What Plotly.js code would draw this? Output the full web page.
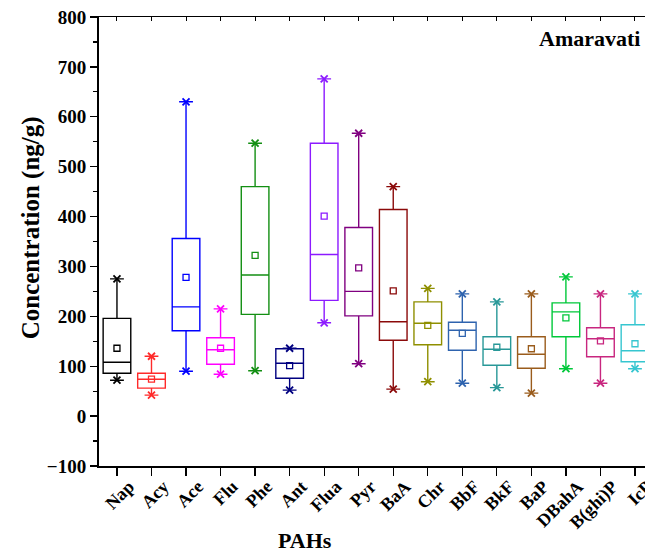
<!DOCTYPE html>
<html>
<head>
<meta charset="utf-8">
<script src="https://cdn.plot.ly/plotly-3.0.1.min.js"></script>
<style>html,body{margin:0;padding:0;background:#fff;overflow:hidden}#chart{width:645px;height:554px}</style>
</head>
<body>
<div id="chart"></div>
<script>
const categories = ['Nap','Acy','Ace','Flu','Phe','Ant','Flua','Pyr','BaA','Chr','BbF','BkF','BaP','DBahA','B(ghi)P','IcP'];
const minVals  = [72, 42, 90, 84, 91, 52, 187, 105, 54, 69, 66, 57, 46, 95, 66, 95];
const q1Vals   = [86, 56, 171, 104, 204, 76, 232, 201, 152, 143, 132, 102, 96, 159, 119, 109];
const medVals  = [108, 74, 219, 133, 283, 106, 324, 250, 189, 186, 172, 134, 124, 209, 155, 131];
const q3Vals   = [196, 86, 356, 157, 460, 135, 547, 378, 414, 229, 188, 159, 159, 227, 177, 183];
const maxVals  = [275, 120, 630, 215, 547, 136, 676, 567, 460, 256, 245, 229, 245, 279, 245, 245];
const meanVals = [136, 74, 278, 136, 322, 101, 401, 297, 251, 182, 166, 138, 135, 197, 151, 145];
const colors = ['#000000','#ff2a2a','#0000ff','#ff00ff','#138f13','#000080','#8c1aff','#800080','#8b0a0a','#8f8f00','#2e63ae','#289898','#9a5c1c','#00c83a','#c8267f','#36c6d0'];

const FONT = 'Liberation Serif, Times New Roman, serif';
const traces = [];
categories.forEach((c, i) => {
  traces.push({
    type: 'box', x: [c], q1: [q1Vals[i]], median: [medVals[i]], q3: [q3Vals[i]],
    lowerfence: [minVals[i]], upperfence: [maxVals[i]],
    width: 0.8, fillcolor: 'rgba(0,0,0,0)', line: {color: colors[i], width: 1.4},
    hoverinfo: 'skip', showlegend: false
  });
  traces.push({
    type: 'scatter', mode: 'markers', x: [c], y: [meanVals[i]],
    marker: {symbol: 'square-open', size: 6, color: colors[i], line: {width: 1.3, color: colors[i]}},
    showlegend: false, hoverinfo: 'skip'
  });
  traces.push({
    type: 'scatter', mode: 'markers', x: [c, c], y: [minVals[i], maxVals[i]],
    marker: {symbol: 'x-thin', size: 7, color: colors[i], line: {width: 1.8, color: colors[i]}},
    showlegend: false, hoverinfo: 'skip'
  });
});
traces.push({type: 'scatter', x: categories, y: medVals, xaxis: 'x2', mode: 'markers', marker: {opacity: 0}, showlegend: false, hoverinfo: 'skip'});

const layout = {
  width: 645, height: 554,
  margin: {l: 99, r: 0, t: 17, b: 88},
  paper_bgcolor: '#fff', plot_bgcolor: '#fff',
  showlegend: false,
  font: {family: FONT, color: '#000'},
  xaxis: {
    type: 'category', categoryorder: 'array', categoryarray: categories,
    range: [-0.52, 15.29], showgrid: false, zeroline: false,
    showline: true, linewidth: 2, linecolor: '#000',
    ticks: 'outside', ticklen: 8, tickwidth: 1.3, tickcolor: '#000',
    tickangle: -45, ticklabelshift: 12, ticklabelstandoff: -7,
    tickfont: {family: FONT, size: 18, color: '#000', weight: 'bold'}
  },
  xaxis2: {
    type: 'category', categoryorder: 'array', categoryarray: categories,
    overlaying: 'x', side: 'top', range: [-0.52, 15.29],
    showgrid: false, zeroline: false, showline: true, linewidth: 1.5, linecolor: '#000',
    ticks: 'inside', ticklen: 4, tickwidth: 1, tickcolor: '#000', showticklabels: false
  },
  yaxis: {
    range: [-100, 800], dtick: 100, tick0: 0, showgrid: false, zeroline: false,
    showline: true, linewidth: 2, linecolor: '#000',
    ticks: 'outside', ticklen: 7, tickwidth: 1.3, tickcolor: '#000',
    minor: {dtick: 50, ticks: 'outside', ticklen: 4, tickwidth: 1.3, tickcolor: '#000', showgrid: false},
    tickfont: {family: FONT, size: 19, color: '#000', weight: 'bold'}
  },
  annotations: [
    {text: 'Concentration (ng/g)', textangle: -90, xref: 'paper', yref: 'paper', x: -0.124, y: 0.53, xanchor: 'center', yanchor: 'middle', showarrow: false,
     font: {family: FONT, size: 25, color: '#000', weight: 'bold'}},
    {text: 'PAHs', xref: 'paper', yref: 'paper', x: 0.377, y: -0.165, xanchor: 'center', yanchor: 'middle', showarrow: false,
     font: {family: FONT, size: 22, color: '#000', weight: 'bold'}},
    {text: 'Amaravati', xref: 'paper', yref: 'paper', x: 0.995, y: 0.953, xanchor: 'right', yanchor: 'middle', showarrow: false,
     font: {family: FONT, size: 22, color: '#000', weight: 'bold'}}
  ]
};
Plotly.newPlot('chart', traces, layout, {staticPlot: true, displayModeBar: false});
</script>
</body>
</html>
